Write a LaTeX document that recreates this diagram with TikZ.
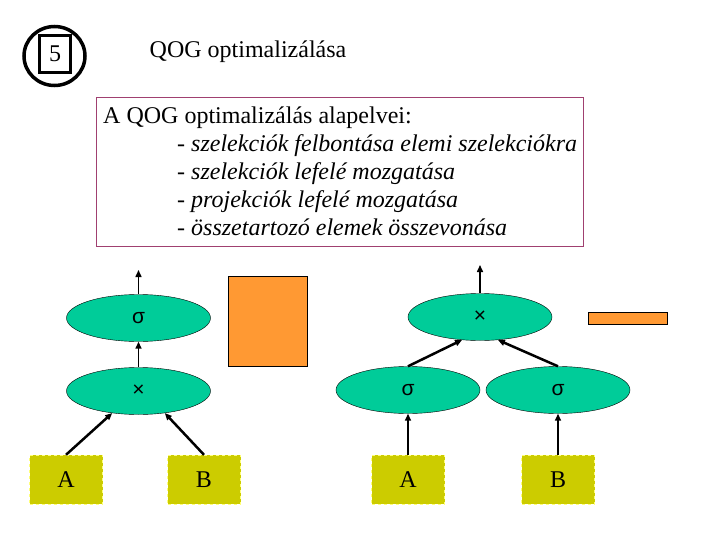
\documentclass[tikz,border=0pt]{standalone}
\usepackage{fontspec}
\setmainfont{Liberation Serif}
\setsansfont{Liberation Sans}
\usetikzlibrary{positioning,arrows.meta,shapes.geometric}
\definecolor{opgreen}{RGB}{0,204,153}
\definecolor{relyellow}{RGB}{204,204,0}
\definecolor{dashyellow}{RGB}{255,255,120}
\definecolor{tmporange}{RGB}{255,153,51}
\definecolor{framepurple}{RGB}{160,64,112}

\begin{document}
\begin{tikzpicture}[x=1pt, y=-1pt, font=\fontsize{24}{28}\selectfont,
  op/.style={ellipse, draw, fill=opgreen, minimum width=144pt, minimum height=47pt, inner sep=0pt, font=\sffamily\fontsize{21}{21}\selectfont},
  rel/.style={draw=dashyellow, dashed, fill=relyellow, minimum width=73pt, minimum height=49pt, inner sep=0pt},
  tmp/.style={draw, fill=tmporange, inner sep=0pt},
  arr/.style={-{Triangle[length=7pt, width=6pt]}, line width=1.5pt},
  tarr/.style={arr, line width=2.5pt}]
\useasboundingbox (0,0) rectangle (720,540);
% heading
\node[draw, ellipse, line width=3.5pt, minimum width=61pt, minimum height=59pt, inner sep=0pt] (badge) at (54.5,56) {};
\node[draw, line width=3pt, minimum width=31pt, minimum height=37pt, inner sep=0pt] (num) at (55,54) {5};
\node (title) at (248,52) {QOG optimalizálása};
\node[draw=framepurple, thick, minimum width=487pt, minimum height=149pt, anchor=north west] (frame) at (96,97) {};
\node[anchor=north west, inner sep=0pt, align=left] (rules) at (103,107) {A QOG optimalizálás alapelvei:\\
  \hspace*{74pt}- \textit{szelekciók felbontása elemi szelekciókra}\\
  \hspace*{74pt}- \textit{szelekciók lefelé mozgatása}\\
  \hspace*{74pt}- \textit{projekciók lefelé mozgatása}\\
  \hspace*{74pt}- \textit{összetartozó elemek összevonása}};
% left tree
\node[op] (sel) at (138.5,318) {σ};
\node[op] (prod) at (138.5,391) {×};
\node[rel] (ra) at (66,479.5) {A};
\node[rel] (rb) at (204,479.5) {B};
\coordinate (outl) at (138.5,270);
\node[tmp, minimum width=79pt, minimum height=90pt] (big) at (267.5,321) {};
\draw[arr] (sel) -- (outl); \draw[arr] (prod) -- (sel);
\draw[tarr] (ra.north) -- (prod.220); \draw[tarr] (rb.north) -- (prod.320);
% right tree
\node[op] (prodr) at (480,317) {×};
\node[op] (sela) at (408,390) {σ};
\node[op] (selb) at (558,390) {σ};
\node[rel] (rra) at (408,479.5) {A};
\node[rel] (rrb) at (558,479.5) {B};
\coordinate (outr) at (480,265);
\node[tmp, minimum width=79pt, minimum height=12pt] (small) at (627.5,318) {};
\draw[arr] (prodr) -- (outr);
\draw[tarr] (sela.north) -- (prodr.232); \draw[tarr] (selb.north) -- (prodr.308);
\draw[arr] (rra) -- (sela); \draw[arr] (rrb) -- (selb);
\end{tikzpicture}
\end{document}
